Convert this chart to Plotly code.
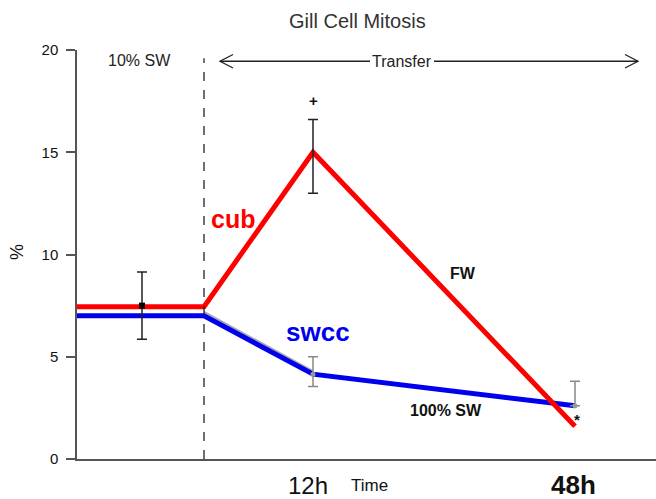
import plotly.graph_objects as go

# ---- data ----
stages = ["10% SW", "Transfer", "12h", "48h"]
stage_x = [0, 127, 236, 498]          # horizontal position of each stage on the time axis
cub_values = [7.45, 7.45, 15.0, 1.6]
swcc_values = [7.0, 7.0, 4.15, 2.6]

pre_x = [65]
pre_mean = [7.5]
pre_err_plus = [1.65]
pre_err_minus = [1.65]

cub_err_x = [236]
cub_err_mean = [15.0]
cub_err_plus = [1.6]
cub_err_minus = [2.0]

swcc_err_x = [236, 498]
swcc_err_mean = [4.15, 2.6]
swcc_err_plus = [0.85, 1.2]
swcc_err_minus = [0.6, 0.0]

y_ticks = [0, 5, 10, 15, 20]

FONT = "Liberation Sans, Arial, sans-serif"
NARROW = "Liberation Sans Narrow, Arial Narrow, Liberation Sans, sans-serif"

fig = go.Figure()

# gray thin line under blue (transfer -> 12h)
fig.add_trace(go.Scatter(x=stage_x[1:3], y=[7.2, 4.3], mode="lines",
                         line=dict(color="#aaaaaa", width=2), hoverinfo="skip", showlegend=False))
fig.add_trace(go.Scatter(x=stage_x, y=swcc_values, mode="lines",
                         line=dict(color="#0000ee", width=5), name="swcc", showlegend=False))
fig.add_trace(go.Scatter(x=stage_x, y=cub_values, mode="lines",
                         line=dict(color="#ff0000", width=5), name="cub", showlegend=False))

# error bars
fig.add_trace(go.Scatter(x=pre_x, y=pre_mean, mode="markers",
                         marker=dict(color="black", size=6, symbol="square"),
                         error_y=dict(type="data", symmetric=False, array=pre_err_plus,
                                      arrayminus=pre_err_minus, color="#222", thickness=1.5, width=5),
                         showlegend=False))
fig.add_trace(go.Scatter(x=cub_err_x, y=cub_err_mean, mode="markers",
                         marker=dict(color="#ff0000", size=1),
                         error_y=dict(type="data", symmetric=False, array=cub_err_plus,
                                      arrayminus=cub_err_minus, color="#222", thickness=1.5, width=5),
                         showlegend=False))
fig.add_trace(go.Scatter(x=swcc_err_x, y=swcc_err_mean, mode="markers",
                         marker=dict(color="#999", size=5),
                         error_y=dict(type="data", symmetric=False, array=swcc_err_plus,
                                      arrayminus=swcc_err_minus, color="#888", thickness=1.5, width=5),
                         showlegend=False))

# dashed transfer line
fig.add_shape(type="line", x0=stage_x[1], x1=stage_x[1], y0=0, y1=19.6, xref="x", yref="y",
              line=dict(color="#222", width=1.3, dash="dash"))

# double arrow
ay = 19.45
fig.add_shape(type="line", x0=143, x1=293, y0=ay, y1=ay, line=dict(color="#222", width=1.3))
fig.add_shape(type="line", x0=357, x1=561, y0=ay, y1=ay, line=dict(color="#222", width=1.3))
fig.add_shape(type="path", path=f"M 156 {ay+0.33} L 143 {ay} L 156 {ay-0.33}",
              line=dict(color="#222", width=1.3))
fig.add_shape(type="path", path=f"M 548 {ay+0.33} L 561 {ay} L 548 {ay-0.33}",
              line=dict(color="#222", width=1.3))

anns = [
    dict(x=325, y=ay, text="Transfer", font=dict(size=16, color="#222", family=NARROW)),
    dict(x=62, y=19.5, text="10% SW", font=dict(size=16, color="#222", family=NARROW)),
    dict(x=156, y=11.74, text="<b>cub</b>", font=dict(size=25, color="#ff0000", family=FONT)),
    dict(x=241, y=6.2, text="<b>swcc</b>", font=dict(size=26, color="#0000ee", family=FONT)),
    dict(x=386, y=9.05, text="<b>FW</b>", font=dict(size=16, color="#111", family=NARROW)),
    dict(x=369, y=2.35, text="<b>100% SW</b>", font=dict(size=16, color="#111", family=NARROW)),
    dict(x=236, y=17.55, text="<b>+</b>", font=dict(size=15, color="#111", family=FONT)),
    dict(x=500, y=1.95, text="<b>*</b>", font=dict(size=15, color="#111", family=FONT)),
]
for a in anns:
    fig.add_annotation(xref="x", yref="y", showarrow=False, xanchor="center", yanchor="middle", **a)

W, H = 656, 499
L, R, T, B = 77, 0, 50, 40
def px(x): return (x - L) / (W - L - R)
def py(y): return (H - B - y) / (H - T - B)

outer = [
    dict(x=px(308), y=py(485), text=stages[2], font=dict(size=24, color="#111", family=FONT)),
    dict(x=px(370), y=py(485), text="Time", font=dict(size=17, color="#111", family=FONT)),
    dict(x=px(573), y=py(485), text="<b>48h</b>", font=dict(size=26, color="#111", family=FONT)),
    dict(x=px(17), y=py(252), text="%", textangle=-90, font=dict(size=18, color="#111", family=FONT)),
    dict(x=px(357), y=py(21), text="Gill Cell Mitosis", font=dict(size=20, color="#333", family=FONT)),
]
for a in outer:
    fig.add_annotation(xref="paper", yref="paper", showarrow=False, xanchor="center", yanchor="middle", **a)

fig.update_layout(
    width=W, height=H,
    margin=dict(l=L, r=R, t=T, b=B, pad=0),
    paper_bgcolor="white", plot_bgcolor="white",
    font=dict(family=FONT, color="#222"),
    xaxis=dict(range=[0, 579], showline=True, linecolor="#555", linewidth=1.5,
               showticklabels=False, ticks="", showgrid=False, zeroline=False, fixedrange=True),
    yaxis=dict(range=[0, 20], tickvals=y_ticks, showline=True, linecolor="#555", linewidth=1.5,
               ticks="outside", ticklen=9, tickcolor="#555", tickwidth=1.5,
               showgrid=False, zeroline=False, tickfont=dict(size=15, color="#111"), ticklabelstandoff=5),
    showlegend=False,
)

fig.write_html("out.html", config={"displayModeBar": False},
               post_script="document.body.style.margin='0';document.body.style.overflow='hidden';")
